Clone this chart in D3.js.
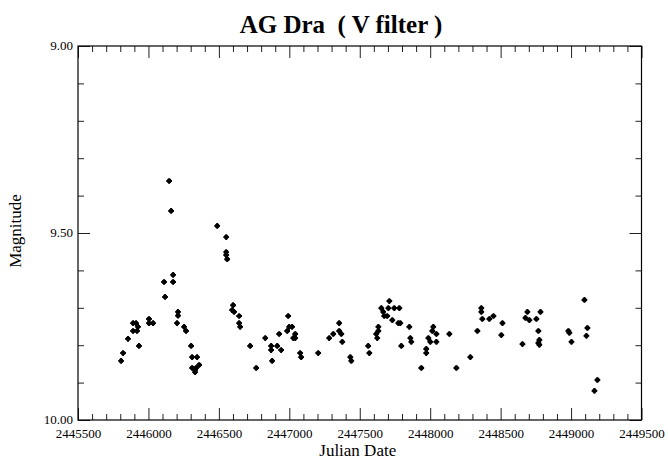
<!DOCTYPE html>
<html>
<head>
<meta charset="utf-8">
<script src="https://cdn.jsdelivr.net/npm/d3@7"></script>
<style>
  body { margin: 0; background: #fff; }
  svg { display: block; }
</style>
</head>
<body>
<svg id="chart" width="668" height="462"></svg>
<script>
const julianDate = [
  2445806, 2445820, 2445855, 2445891, 2445912, 2445891, 2445919, 2445926, 2445933, 2446004,
  2446004, 2446033, 2446111, 2446175, 2446175, 2446118, 2446147, 2446161, 2446210, 2446210,
  2446203, 2446253, 2446267, 2446303, 2446310, 2446345, 2446310, 2446331, 2446360, 2446338,
  2446331, 2446488, 2446552, 2446552, 2446552, 2446559, 2446601, 2446594, 2446608, 2446644,
  2446644, 2446651, 2446722, 2446765, 2446829, 2446871, 2446871, 2446878, 2446914, 2446942,
  2446928, 2446992, 2446985, 2446999, 2447020, 2447028, 2447042, 2447042, 2447077, 2447084,
  2447205, 2447283, 2447312, 2447354, 2447354, 2447369, 2447376, 2447433, 2447440, 2447560,
  2447568, 2447617, 2447624, 2447632, 2447632, 2447653, 2447667, 2447674, 2447695, 2447703,
  2447710, 2447731, 2447745, 2447781, 2447774, 2447788, 2447795, 2447852, 2447859, 2447866,
  2447937, 2447972, 2447972, 2447987, 2448001, 2448022, 2448015, 2448044, 2448044, 2448136,
  2448186, 2448285, 2448335, 2448363, 2448363, 2448370, 2448420, 2448449, 2448513, 2448505,
  2448655, 2448676, 2448690, 2448704, 2448754, 2448783, 2448768, 2448775, 2448768, 2448775,
  2448981, 2448988, 2449003, 2449095, 2449116, 2449109, 2449187, 2449166
];
const magnitude = [
  9.842, 9.821, 9.783, 9.741, 9.741, 9.762, 9.762, 9.751, 9.802, 9.730,
  9.741, 9.741, 9.631, 9.631, 9.612, 9.671, 9.361, 9.441, 9.711, 9.721,
  9.741, 9.751, 9.762, 9.802, 9.832, 9.832, 9.861, 9.866, 9.853, 9.861,
  9.872, 9.481, 9.511, 9.551, 9.559, 9.570, 9.693, 9.706, 9.711, 9.722,
  9.741, 9.751, 9.802, 9.861, 9.781, 9.802, 9.813, 9.842, 9.802, 9.813,
  9.770, 9.722, 9.762, 9.751, 9.751, 9.781, 9.770, 9.781, 9.821, 9.832,
  9.821, 9.781, 9.770, 9.741, 9.762, 9.770, 9.791, 9.832, 9.842, 9.802,
  9.821, 9.770, 9.781, 9.751, 9.762, 9.701, 9.711, 9.722, 9.722, 9.701,
  9.682, 9.733, 9.701, 9.701, 9.741, 9.741, 9.802, 9.751, 9.781, 9.791,
  9.861, 9.810, 9.821, 9.781, 9.791, 9.751, 9.762, 9.770, 9.791, 9.770,
  9.861, 9.832, 9.762, 9.701, 9.711, 9.730, 9.730, 9.722, 9.741, 9.773,
  9.797, 9.727, 9.711, 9.733, 9.730, 9.711, 9.762, 9.786, 9.794, 9.799,
  9.762, 9.767, 9.791, 9.679, 9.754, 9.775, 9.893, 9.922
];

const xTickLabels = ['2445500', '2446000', '2446500', '2447000', '2447500',
  '2448000', '2448500', '2449000', '2449500'];
const yTickLabels = ['9.00', '9.50', '10.00'];

const width = 668;
const height = 462;
const margin = {top: 46, right: 26.5, bottom: 42, left: 78};
const innerW = width - margin.left - margin.right;
const innerH = height - margin.top - margin.bottom;

const svg = d3.select('svg#chart');
const serif = '"Liberation Serif", "Times New Roman", serif';

const x = d3.scaleLinear().domain([2445500, 2449500]).range([0, innerW]);
const y = d3.scaleLinear().domain([9.0, 10.0]).range([0, innerH]);

const g = svg.append('g')
  .attr('transform', `translate(${margin.left},${margin.top})`);

// Ticks on all four sides, pointing inward; every 500 days / 0.5 mag is long
const xMajor = d => Math.abs(d % 500) < 1e-6;
const yMajor = d => Math.abs((d * 10) % 5) < 1e-6;
const xTicks = d3.range(2445500, 2449501, 100);
const yTicks = d3.range(0, 11).map(i => 9 + i / 10);

function styleTicks(sel, isMajor, sign) {
  sel.select('.domain').remove();
  sel.selectAll('.tick line')
    .attr('stroke', '#222')
    .attr('stroke-width', 1);
  sel.selectAll('.tick line').each(function(d) {
    const len = isMajor(d) ? 12 : 6;
    const line = d3.select(this);
    if (line.attr('x2') !== null && +line.attr('x2') !== 0) line.attr('x2', sign * len);
    else line.attr('y2', sign * len);
  });
}

const bottomAxis = g.append('g')
  .attr('transform', `translate(0,${innerH})`)
  .call(d3.axisBottom(x).tickValues(xTicks).tickSize(-6).tickPadding(0)
    .tickFormat(d => xMajor(d) ? xTickLabels[(d - 2445500) / 500] : ''));
styleTicks(bottomAxis, xMajor, -1);
bottomAxis.selectAll('.tick text')
  .attr('y', 18)
  .attr('dy', 0)
  .attr('font-family', serif)
  .attr('font-size', 13)
  .attr('fill', '#000');

const topAxis = g.append('g')
  .call(d3.axisTop(x).tickValues(xTicks).tickSize(-6).tickFormat(''));
styleTicks(topAxis, xMajor, 1);

const leftAxis = g.append('g')
  .call(d3.axisLeft(y).tickValues(yTicks).tickSize(-6).tickPadding(0)
    .tickFormat(d => yMajor(d) ? yTickLabels[Math.round((d - 9) * 2)] : ''));
styleTicks(leftAxis, yMajor, 1);
leftAxis.selectAll('.tick text')
  .attr('x', -5)
  .attr('dy', '0.25em')
  .attr('font-family', serif)
  .attr('font-size', 13)
  .attr('fill', '#000');

const rightAxis = g.append('g')
  .attr('transform', `translate(${innerW},0)`)
  .call(d3.axisRight(y).tickValues(yTicks).tickSize(-6).tickFormat(''));
styleTicks(rightAxis, yMajor, -1);

// Frame
g.append('rect')
  .attr('width', innerW)
  .attr('height', innerH)
  .attr('fill', 'none')
  .attr('stroke', '#000')
  .attr('stroke-width', 1.2);

// Points
const points = julianDate.map((jd, i) => ({jd, mag: magnitude[i]}));
const marks = g.append('g').selectAll('g.obs').data(points).enter()
  .append('g')
  .attr('class', 'obs')
  .attr('transform', d => `translate(${x(d.jd)},${y(d.mag)})`);
marks.append('circle').attr('r', 2.4).attr('fill', '#000');
marks.append('path')
  .attr('d', d3.symbol().type(d3.symbolCross).size(18))
  .attr('fill', '#000');

// Titles
svg.append('text')
  .attr('x', 341)
  .attr('y', 33)
  .attr('text-anchor', 'middle')
  .attr('font-family', serif)
  .attr('font-weight', 'bold')
  .attr('font-size', 25)
  .attr('xml:space', 'preserve')
  .text('AG Dra  ( V filter )');

svg.append('text')
  .attr('x', margin.left + innerW / 2 - 2)
  .attr('y', 456)
  .attr('text-anchor', 'middle')
  .attr('font-family', serif)
  .attr('font-size', 17)
  .text('Julian Date');

svg.append('text')
  .attr('transform', `translate(21,${margin.top + innerH / 2 - 2}) rotate(-90)`)
  .attr('text-anchor', 'middle')
  .attr('font-family', serif)
  .attr('font-size', 17)
  .text('Magnitude');
</script>
</body>
</html>
